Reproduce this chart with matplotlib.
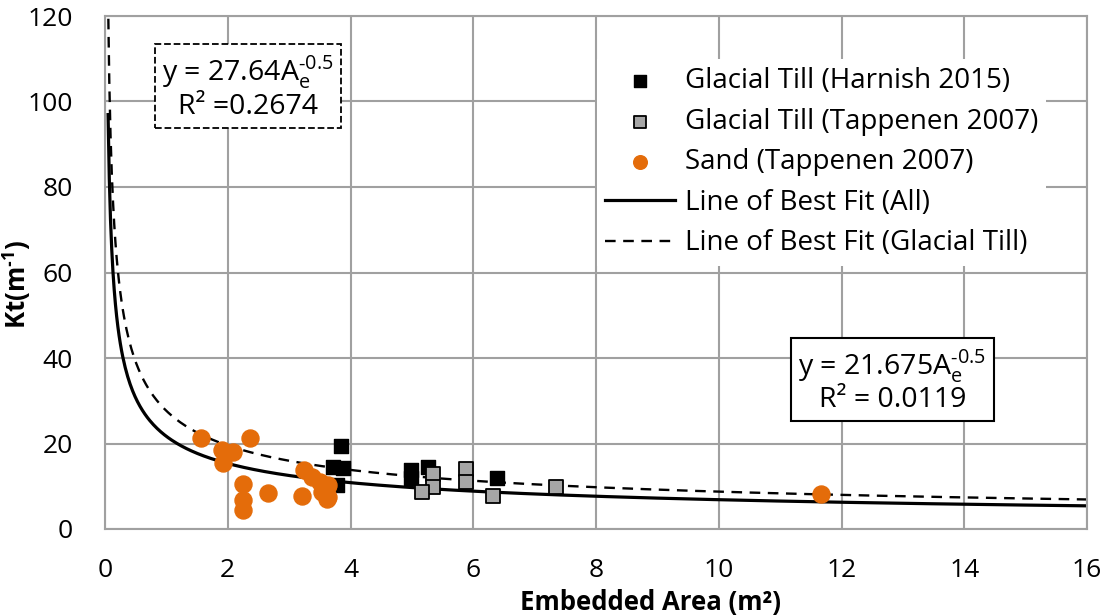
import numpy as np
import matplotlib
matplotlib.use("Agg")
import matplotlib.pyplot as plt

plt.rcParams['font.family'] = ['Open Sans', 'DejaVu Sans']
plt.rcParams['mathtext.fontset'] = 'custom'
plt.rcParams['mathtext.rm'] = 'Open Sans'
plt.rcParams['mathtext.bf'] = 'Open Sans:bold'

# Data
harnish_x = [3.85, 3.71, 3.88, 3.78, 4.99, 4.99, 5.26, 6.39]
harnish_y = [19.4, 14.5, 14.3, 10.3, 13.8, 11.9, 14.5, 11.9]

tapp_till_x = [5.34, 5.34, 5.17, 5.88, 5.88, 6.32, 7.35]
tapp_till_y = [12.8, 9.8, 8.7, 14.1, 11.0, 7.7, 9.8]

sand_x = [1.56, 1.91, 2.09, 1.92, 2.36, 2.25, 2.25, 2.25, 2.66, 3.21, 3.24, 3.37,
          3.50, 3.63, 3.54, 3.63, 3.62, 3.58, 3.61, 11.67]
sand_y = [21.3, 18.5, 18.0, 15.4, 21.3, 10.5, 6.8, 4.4, 8.4, 7.7, 13.8, 12.2,
          11.0, 10.3, 8.7, 7.5, 9.8, 9.8, 7.0, 8.2]

fit_all_coef = 21.675
fit_till_coef = 27.64
fit_exp = -0.5

x_ticks = [0, 2, 4, 6, 8, 10, 12, 14, 16]
y_ticks = [0, 20, 40, 60, 80, 100, 120]

fig = plt.figure(figsize=(11.03, 6.16), dpi=100)
ax = fig.add_axes([105/1103, 1 - 529/616, (1087-105)/1103, (529-16)/616])

grid_col = '#A0A0A0'
ax.set_xlim(0, 16)
ax.set_ylim(0, 120)
ax.set_xticks(x_ticks)
ax.set_yticks(y_ticks)
ax.grid(True, color=grid_col, linewidth=1.5, zorder=0)
ax.set_axisbelow(True)
for s in ax.spines.values():
    s.set_color(grid_col)
    s.set_linewidth(1.5)
ax.tick_params(length=0, labelsize=19)
ax.tick_params(axis='x', pad=21)
ax.tick_params(axis='y', pad=23)

xf = np.linspace(0.05, 16, 800)
ax.plot(xf, fit_all_coef * xf ** fit_exp, color='black', lw=2.3, zorder=2,
        label='Line of Best Fit (All)')
ax.plot(xf, fit_till_coef * xf ** fit_exp, color='black', lw=1.7, ls=(0, (4.5, 3.2)), zorder=2,
        label='Line of Best Fit (Glacial Till)')

ax.scatter(harnish_x, harnish_y, marker='s', s=110, color='black', zorder=3,
           label='Glacial Till (Harnish 2015)')
ax.scatter(tapp_till_x, tapp_till_y, marker='s', s=110, facecolor='#A6A6A6',
           edgecolor='black', linewidth=1.3, zorder=3, label='Glacial Till (Tappenen 2007)')
ax.scatter(sand_x, sand_y, marker='o', s=150, color='#E46C0A', zorder=3,
           label='Sand (Tappenen 2007)')

handles, labels = ax.get_legend_handles_labels()
order = [2, 3, 4, 0, 1]
leg = ax.legend([handles[i] for i in order], [labels[i] for i in order],
                loc='upper left', bbox_to_anchor=(0.487, 0.943), fontsize=20,
                frameon=True, fancybox=False, edgecolor='none', facecolor='white',
                framealpha=1, handlelength=2.5, handletextpad=0.35, labelspacing=0.45,
                borderpad=0.3, markerscale=0.8)

H = '\u2010'
ax.text(2.33, 103.3, 'y = 27.64A$_\\mathregular{e}^\\mathregular{' + H + '0.5}$\nR² =0.2674',
        ha='center', va='center', fontsize=20.5, linespacing=1.05, zorder=5,
        bbox=dict(boxstyle='square,pad=0.25', facecolor='white', edgecolor='black',
                  linestyle='--', linewidth=1.3))
ax.text(12.83, 34.6, 'y = 21.675A$_\\mathregular{e}^\\mathregular{' + H + '0.5}$\nR² = 0.0119',
        ha='center', va='center', fontsize=20.5, linespacing=1.05, zorder=5,
        bbox=dict(boxstyle='square,pad=0.25', facecolor='white', edgecolor='black',
                  linewidth=1.5))

ax.set_xlabel('Embedded Area (m²)', fontsize=18.5, fontweight='bold')
ax.xaxis.set_label_coords(0.555, -0.117)
ax.set_ylabel('Kt(m$^\\mathbf{' + H + '1}$)', fontsize=18.5, fontweight='bold')
ax.yaxis.set_label_coords(-0.073, 0.476)

fig.savefig('out.png', dpi=100)
